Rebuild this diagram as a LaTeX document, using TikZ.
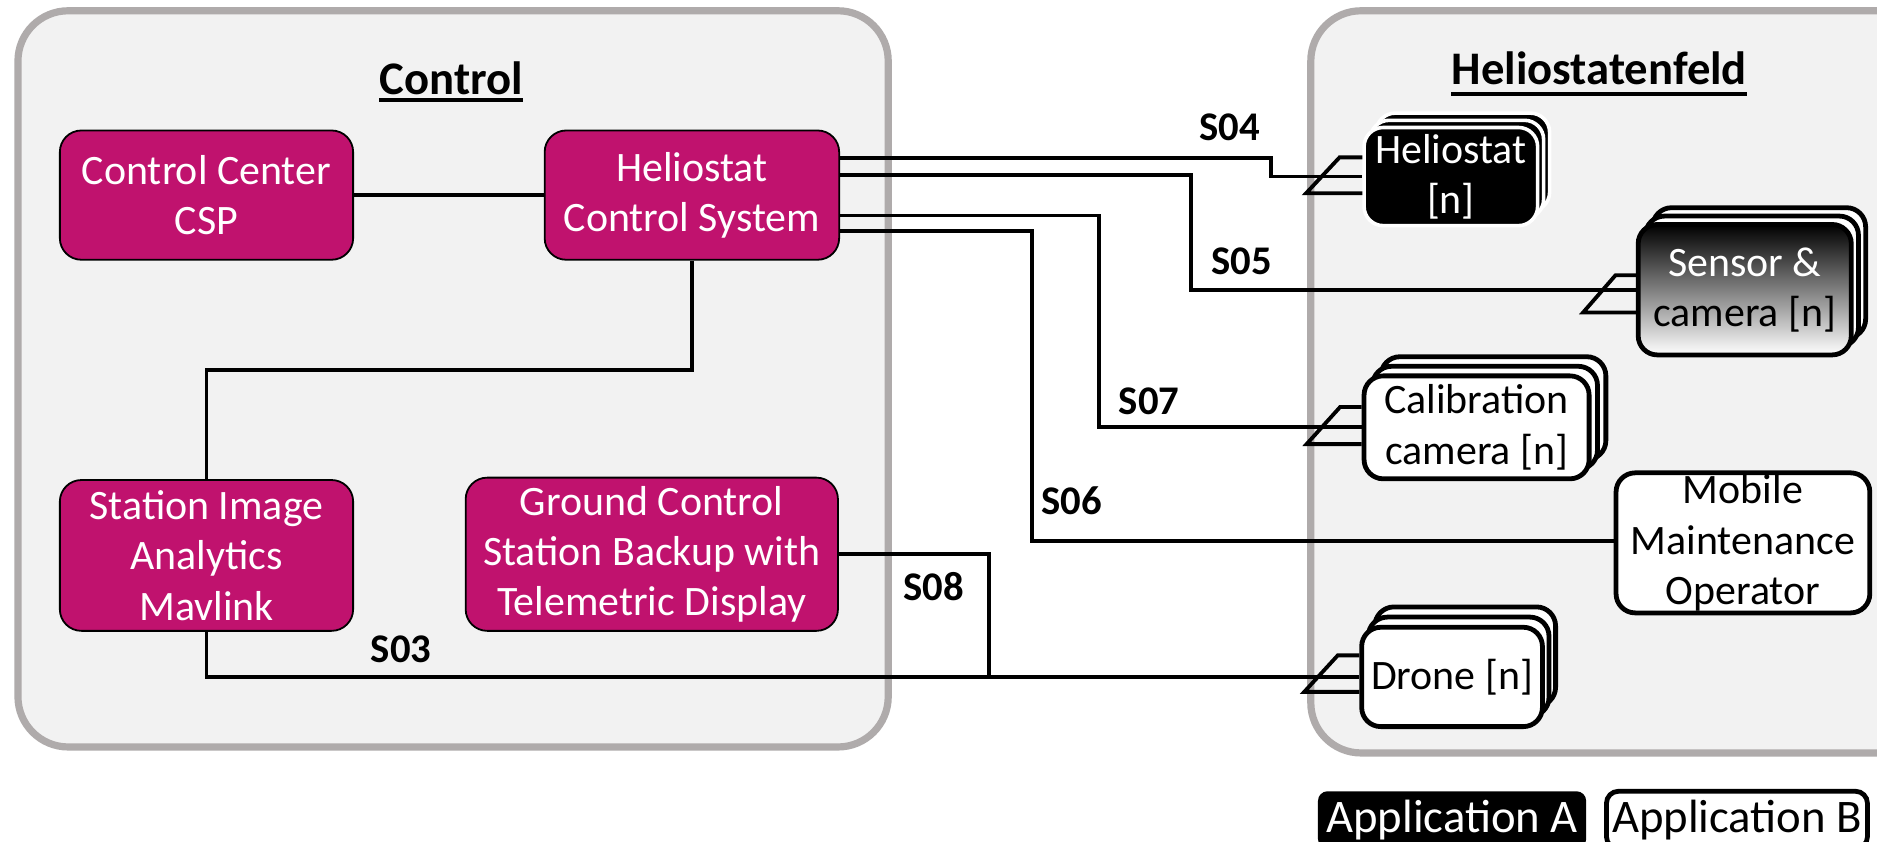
\documentclass[tikz,border=0pt]{standalone}
\usepackage{fontspec}
\setmainfont{Carlito}
\usetikzlibrary{calc}
\definecolor{mag}{HTML}{C0126E}
\definecolor{frame}{HTML}{AFABAB}
\definecolor{panel}{HTML}{F2F2F2}
\begin{document}
\begin{tikzpicture}[x=1pt,y=-1pt,
  panelbox/.style={draw=frame, fill=panel, line width=6, rounded corners=42},
  magbox/.style={rectangle, rounded corners=18, fill=mag, draw=black, line width=1.5, text=white, align=center, inner sep=0, font=\fontsize{35}{42}\selectfont},
  wbox/.style={rectangle, rounded corners=16, fill=white, draw=black, line width=4, text=black, align=center, inner sep=0, font=\fontsize{35}{42}\selectfont},
  bbox/.style={rectangle, rounded corners=16, fill=black, draw=white, line width=3, text=white, align=center, inner sep=0, font=\fontsize{35}{42}\selectfont},
  conn/.style={line width=3.2},
  lbl/.style={font=\fontsize{34}{40}\selectfont\bfseries, inner sep=0},
  ttl/.style={font=\fontsize{39}{46}\selectfont\bfseries, inner sep=0, anchor=base},
  legtext/.style={font=\fontsize{39}{46}\selectfont, inner sep=0, minimum height=48},
]
\clip (0,0) rectangle (1568,703);
\fill[white] (0,0) rectangle (1568,703);
% panels
\draw[panelbox] (15,9) rectangle (742,624);
\draw[panelbox] (1095,9) rectangle (1660,629);
% titles
\node[ttl] (tc) at (377,79) {Control};
\draw[line width=3.4] ($(tc.base west)+(0,4.5)$) -- ($(tc.base east)+(0,4.5)$);
\node[ttl] (th) at (1336,71) {Heliostatenfeld};
\draw[line width=3.4] ($(th.base west)+(0,7.5)$) -- ($(th.base east)+(0,7.5)$);
% control boxes
\node[magbox, minimum width=245, minimum height=108] (cc) at (172.5,163) {Control Center\\CSP};
\node[magbox, minimum width=246, minimum height=108] (hcs) at (578,163) {Heliostat\\Control System};
\node[magbox, minimum width=245, minimum height=126] (sia) at (172.5,464) {Station Image\\Analytics\\Mavlink};
\node[magbox, minimum width=311, minimum height=128] (gcs) at (544.5,463) {Ground Control\\Station Backup with\\Telemetric Display};
% heliostat stack
\node[bbox, minimum width=145, minimum height=82] (helio2) at (1222,135.5) {};
\node[bbox, minimum width=145, minimum height=82] (helio1) at (1217,141.5) {};
\node[bbox, minimum width=145, minimum height=82] (helio) at (1212,147.5) {Heliostat\\{[n]}};
% sensor stack
\node[wbox, minimum width=178, minimum height=109] (sensor2) at (1469.5,228) {};
\node[wbox, minimum width=178, minimum height=109] (sensor1) at (1463.5,235) {};
\node[wbox, top color=black, bottom color=white, minimum width=178, minimum height=109] (sensor) at (1457.5,242) {{\color{white}Sensor \&}\\camera {[n]}};
% calibration stack
\node[wbox, minimum width=188, minimum height=86] (calib2) at (1247.5,341) {};
\node[wbox, minimum width=188, minimum height=86] (calib1) at (1240.5,349) {};
\node[wbox, minimum width=188, minimum height=86] (calib) at (1233.5,357) {Calibration\\camera {[n]}};
% drone stack
\node[wbox, minimum width=151, minimum height=83] (drone2) at (1224,548.5) {};
\node[wbox, minimum width=151, minimum height=83] (drone1) at (1218.5,557) {};
\node[wbox, minimum width=151, minimum height=83] (drone) at (1213,565.5) {Drone {[n]}};
% mobile maintenance
\node[wbox, minimum width=212, minimum height=117] (mob) at (1456,453.5) {Mobile\\Maintenance\\Operator};
% legend
\node[legtext, fill=black, text=white, rounded corners=8, minimum width=224] (appa) at (1213,685) {Application A};
\node[legtext, fill=white, draw=black, line width=4, rounded corners=10, minimum width=218] (appb) at (1451,685) {Application B};
% connectors inside control
\draw[conn] (cc.east) -- (hcs.west);
\draw[conn] (hcs.south) -- ++(0,91) -| (sia.north);
\draw[conn] (sia.south) |- (drone.west);
\coordinate (j8) at (826,565.5);
\draw[conn] (gcs.east) -| (j8);
% connectors to field
\draw[conn] ($(hcs.east)+(0,-31)$) -| (1062,147.5) -- (helio.west);
\draw[conn] ($(hcs.east)+(0,-16.5)$) -| (995,242) -- (sensor.west);
\draw[conn] ($(hcs.east)+(0,17)$) -| (918,357) -- (calib.west);
\coordinate (m6) at (862,452);
\draw[conn] ($(hcs.east)+(0,30)$) -| (m6) -- (m6 -| mob.west);
% crow feet
\draw[conn] ($(helio.west)+(0,-16)$) -- ++(-19,0) -- ++(-28,30) -- ++(47,0);
\draw[conn] ($(sensor.west)+(0,-12)$) -- ++(-17,0) -- ++(-27,31) -- ++(44,0);
\draw[conn] ($(calib.west)+(0,-17)$) -- ++(-18,0) -- ++(-28,31) -- ++(46,0);
\draw[conn] ($(drone.west)+(0,-18)$) -- ++(-18,0) -- ++(-28,30.5) -- ++(46,0);
% labels
\node[lbl] (s04) at (1027,106) {S04};
\node[lbl] (s05) at (1037,218) {S05};
\node[lbl] (s07) at (960,335) {S07};
\node[lbl] (s06) at (895,418) {S06};
\node[lbl] (s08) at (780,490) {S08};
\node[lbl] (s03) at (335,542) {S03};
\end{tikzpicture}
\end{document}
